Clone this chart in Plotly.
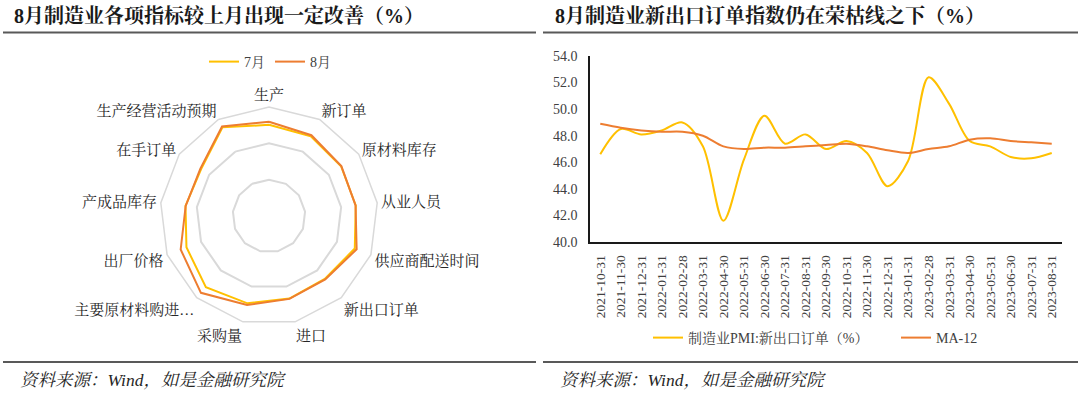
import plotly.graph_objects as go

# ---- Left: radar data ----
radar_categories = ["生产", "新订单", "原材料库存", "从业人员", "供应商配送时间", "新出口订单", "进口",
                    "采购量", "主要原材料购进…", "出厂价格", "产成品库存", "在手订单", "生产经营活动预期"]
july_values = [50.2, 49.5, 48.2, 48.1, 50.5, 46.3, 46.8, 49.5, 52.4, 48.6, 46.3, 45.4, 55.1]
aug_values = [51.9, 50.2, 48.4, 48.0, 51.6, 46.7, 47.0, 50.5, 56.5, 52.0, 46.2, 45.9, 55.6]

# ---- Right: line data ----
dates = ["2021-10-31", "2021-11-30", "2021-12-31", "2022-01-31", "2022-02-28", "2022-03-31",
         "2022-04-30", "2022-05-31", "2022-06-30", "2022-07-31", "2022-08-31", "2022-09-30",
         "2022-10-31", "2022-11-30", "2022-12-31", "2023-01-31", "2023-02-28", "2023-03-31",
         "2023-04-30", "2023-05-31", "2023-06-30", "2023-07-31", "2023-08-31"]
pmi_export = [46.6, 48.5, 48.1, 48.4, 49.0, 47.2, 41.6, 46.2, 49.5, 47.4, 48.1, 47.0,
              47.6, 46.7, 44.2, 46.1, 52.4, 50.4, 47.6, 47.2, 46.4, 46.3, 46.7]
ma12 = [48.9, 48.6, 48.4, 48.3, 48.3, 48.0, 47.2, 47.0, 47.1, 47.1, 47.2, 47.3,
        47.4, 47.2, 46.9, 46.7, 47.0, 47.2, 47.7, 47.8, 47.6, 47.5, 47.4]

YELLOW = "#FFC000"
ORANGE = "#ED7D31"
FONT = "Liberation Serif, Noto Serif CJK SC, Noto Sans CJK SC, serif"
W, H = 1080, 399

def px(x):
    return x / W

def py(y):
    return (H - y) / H

fig = go.Figure()

theta = radar_categories + radar_categories[:1]
fig.add_trace(go.Scatterpolar(r=july_values + july_values[:1], theta=theta, mode="lines",
                              name="7月", line=dict(color=YELLOW, width=2), legend="legend"))
fig.add_trace(go.Scatterpolar(r=aug_values + aug_values[:1], theta=theta, mode="lines",
                              name="8月", line=dict(color=ORANGE, width=2), legend="legend"))

fig.add_trace(go.Scatter(x=dates, y=pmi_export, mode="lines", name="制造业PMI:新出口订单（%）",
                         line=dict(color=YELLOW, width=2, shape="spline", smoothing=0.9),
                         legend="legend2"))
fig.add_trace(go.Scatter(x=dates, y=ma12, mode="lines", name="MA-12",
                         line=dict(color=ORANGE, width=2, shape="spline", smoothing=0.9),
                         legend="legend2"))

cx, cy, rad = 269, 216, 109
fig.update_layout(
    width=W, height=H,
    margin=dict(l=0, r=0, t=0, b=0, autoexpand=False),
    paper_bgcolor="white", plot_bgcolor="white",
    font=dict(family=FONT, size=14, color="#404040"),
    polar=dict(
        domain=dict(x=[px(cx - rad), px(cx + rad)], y=[py(cy + rad), py(cy - rad)]),
        gridshape="linear",
        bgcolor="white",
        angularaxis=dict(direction="clockwise", rotation=90, showline=True, linecolor="#d9d9d9",
                         linewidth=1.5, showgrid=False, ticks="",
                         tickfont=dict(size=15, color="#262626", family=FONT)),
        radialaxis=dict(range=[0, 60], tickvals=[20, 40, 60], showticklabels=False,
                        showline=False, ticks="", gridcolor="#d9d9d9", gridwidth=1.5),
    ),
    xaxis=dict(domain=[px(590), px(1062)], type="category", range=[-0.5, len(dates) - 0.5],
               showline=True, linecolor="#1a1a1a", linewidth=1.5, showgrid=False, ticks="",
               tickangle=-90, tickfont=dict(size=13.5, color="#404040", family=FONT),
               ticklabelstandoff=6, zeroline=False, automargin=False),
    yaxis=dict(domain=[py(242), py(56)], range=[40, 54], dtick=2, tickformat=".1f",
               showline=True, linecolor="#1a1a1a", linewidth=1.5, showgrid=False, ticks="",
               tickfont=dict(size=14, color="#404040", family=FONT), ticklabelstandoff=8,
               zeroline=False, automargin=False),
    legend=dict(orientation="h", x=px(270), xanchor="center", y=py(62), yanchor="middle",
                font=dict(size=14, color="#404040", family=FONT), bgcolor="rgba(0,0,0,0)",
                itemwidth=30),
    legend2=dict(orientation="h", x=px(648), xanchor="left", y=py(338), yanchor="middle",
                 font=dict(size=14, color="#404040", family=FONT), bgcolor="rgba(0,0,0,0)",
                 itemwidth=30, entrywidth=203, entrywidthmode="pixels"),
    showlegend=True,
)

# Header/footer rules
line_style = dict(color="#595959", width=2)
for x0, x1 in [(3, 536), (543, 1078)]:
    fig.add_shape(type="line", xref="paper", yref="paper", x0=px(x0), x1=px(x1),
                  y0=py(32.5), y1=py(32.5), line=line_style)
    fig.add_shape(type="line", xref="paper", yref="paper", x0=px(x0), x1=px(x1),
                  y0=py(362), y1=py(362), line=line_style)

titles = [(12, "8月制造业各项指标较上月出现一定改善（%）"), (553, "8月制造业新出口订单指数仍在荣枯线之下（%）")]
for x, t in titles:
    fig.add_annotation(text="<b>" + t + "</b>", xref="paper", yref="paper", x=px(x), y=py(16),
                       xanchor="left", yanchor="middle", showarrow=False,
                       font=dict(size=20, color="#1a1a1a", family=FONT))

for x in [18, 558]:
    fig.add_annotation(text="<i>资料来源：Wind，如是金融研究院</i>", xref="paper", yref="paper",
                       x=px(x), y=py(380), xanchor="left", yanchor="middle", showarrow=False,
                       font=dict(size=17.5, color="#262626", family=FONT))

fig.write_html("out.html", config={"displayModeBar": False},
               post_script="document.body.style.margin='0';")
